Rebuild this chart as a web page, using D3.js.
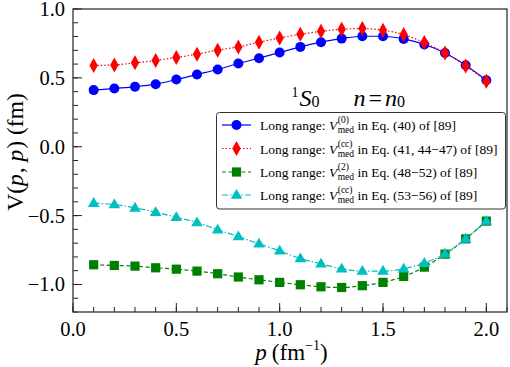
<!DOCTYPE html>
<html>
<head>
<meta charset="utf-8">
<script src="https://cdn.jsdelivr.net/npm/d3@7"></script>
<style>
  body { margin: 0; background: #fff; }
</style>
</head>
<body>
<svg id="chart" width="510" height="367"></svg>
<script>
// momentum grid (fm^-1)
const pValues = [0.1, 0.2, 0.3, 0.4, 0.5, 0.6, 0.7, 0.8, 0.9, 1.0,
                 1.1, 1.2, 1.3, 1.4, 1.5, 1.6, 1.7, 1.8, 1.9, 2.0];

// V(p,p) in fm for each long-range variant
const vMed0 = [0.411, 0.423, 0.435, 0.454, 0.488, 0.525, 0.561, 0.604, 0.643, 0.684,
               0.725, 0.759, 0.785, 0.802, 0.802, 0.783, 0.742, 0.681, 0.592, 0.483];
const vMedCC1 = [0.590, 0.594, 0.609, 0.626, 0.648, 0.672, 0.701, 0.725, 0.759, 0.790,
                 0.817, 0.838, 0.853, 0.858, 0.846, 0.814, 0.756, 0.681, 0.587, 0.476];
const vMed2 = [-0.857, -0.862, -0.867, -0.879, -0.889, -0.903, -0.922, -0.946, -0.966, -0.985,
               -1.002, -1.017, -1.022, -1.009, -0.985, -0.942, -0.874, -0.780, -0.669, -0.540];
const vMedCC2 = [-0.410, -0.420, -0.444, -0.476, -0.512, -0.550, -0.603, -0.652, -0.705, -0.756,
                 -0.812, -0.850, -0.886, -0.903, -0.903, -0.886, -0.845, -0.778, -0.669, -0.540];

const xTicks = [0.0, 0.5, 1.0, 1.5, 2.0];
const yTicks = [-1.0, -0.5, 0.0, 0.5, 1.0];

const legendSup = ['(0)', '(cc)', '(2)', '(cc)'];
const legendEq = ['\u00a0in Eq. (40) of [89]', '\u00a0in Eq. (41, 44\u221247) of [89]',
                  '\u00a0in Eq. (48\u221252) of [89]', '\u00a0in Eq. (53\u221256) of [89]'];

const series = [
  { values: vMed0, color: '#0000ff', dash: null, marker: 'circle' },
  { values: vMedCC1, color: '#ff0000', dash: '1.5,2', marker: 'diamond' },
  { values: vMed2, color: '#008000', dash: '4,2.5', marker: 'square' },
  { values: vMedCC2, color: '#00bfbf', dash: '6,2,1.5,2', marker: 'triangle' }
];

const FONT = '"Liberation Serif"';

const svg = d3.select('#chart');
const margin = { left: 73, top: 9, right: 3, bottom: 55 };
const width = 510 - margin.left - margin.right;
const height = 367 - margin.top - margin.bottom;
const g = svg.append('g').attr('transform', `translate(${margin.left},${margin.top})`);

const x = d3.scaleLinear().domain([0, 2.1]).range([0, width]);
const y = d3.scaleLinear().domain([-1.2, 1.0]).range([height, 0]);

// ticks pointing inward, minor every 0.1
const minorX = d3.range(0, 2.11, 0.1).map(v => +v.toFixed(2));
const minorY = d3.range(-1.2, 1.01, 0.1).map(v => +v.toFixed(2));

g.selectAll('.mx').data(minorX).enter().append('line')
  .attr('x1', d => x(d)).attr('x2', d => x(d))
  .attr('y1', height).attr('y2', height - 5)
  .attr('stroke', '#222').attr('stroke-width', 1);
g.selectAll('.Mx').data(xTicks).enter().append('line')
  .attr('x1', d => x(d)).attr('x2', d => x(d))
  .attr('y1', height).attr('y2', height - 9)
  .attr('stroke', '#222').attr('stroke-width', 1);
g.selectAll('.my').data(minorY).enter().append('line')
  .attr('x1', 0).attr('x2', 5)
  .attr('y1', d => y(d)).attr('y2', d => y(d))
  .attr('stroke', '#222').attr('stroke-width', 1);
g.selectAll('.My').data(yTicks).enter().append('line')
  .attr('x1', 0).attr('x2', 9)
  .attr('y1', d => y(d)).attr('y2', d => y(d))
  .attr('stroke', '#222').attr('stroke-width', 1);

// tick labels
g.selectAll('.xl').data(xTicks).enter().append('text')
  .attr('x', d => x(d)).attr('y', height + 24)
  .attr('text-anchor', 'middle')
  .style('font-family', FONT).style('font-size', '20.5px')
  .text(d => d.toFixed(1));
g.selectAll('.yl').data(yTicks).enter().append('text')
  .attr('x', -8).attr('y', d => y(d) + 7)
  .attr('text-anchor', 'end')
  .style('font-family', FONT).style('font-size', '20.5px')
  .text(d => (d < 0 ? '\u2212' : '') + Math.abs(d).toFixed(1));

// frame
g.append('rect').attr('width', width).attr('height', height)
  .attr('fill', 'none').attr('stroke', '#333').attr('stroke-width', 1.3);

// marker drawing
function drawMarker(sel, type, color, size) {
  if (type === 'circle') {
    sel.append('circle').attr('r', size * 0.5).attr('fill', color);
  } else if (type === 'diamond') {
    const w = size * 0.42, h = size * 0.75;
    sel.append('path').attr('d', `M0,${-h}L${w},0L0,${h}L${-w},0Z`).attr('fill', color);
  } else if (type === 'square') {
    const s = size * 0.46;
    sel.append('rect').attr('x', -s).attr('y', -s).attr('width', 2 * s).attr('height', 2 * s)
      .attr('fill', color);
  } else {
    const s = size * 0.58;
    sel.append('path').attr('d', `M0,${-s * 1.05}L${s},${s * 0.65}L${-s},${s * 0.65}Z`).attr('fill', color);
  }
}

const line = d3.line().x(d => x(d[0])).y(d => y(d[1])).curve(d3.curveMonotoneX);

series.forEach(s => {
  const pts = pValues.map((p, i) => [p, s.values[i]]);
  g.append('path').datum(pts)
    .attr('d', line).attr('fill', 'none')
    .attr('stroke', s.color).attr('stroke-width', 1.2)
    .attr('stroke-dasharray', s.dash);
  g.selectAll(null).data(pts).enter().append('g')
    .attr('transform', d => `translate(${x(d[0])},${y(d[1])})`)
    .each(function () { drawMarker(d3.select(this), s.marker, s.color, 10); });
});

// draw sequential rich text pieces, returns end x
function piece(parent, px, py, size, italic, txt) {
  return parent.append('text').attr('x', px).attr('y', py)
    .style('font-family', FONT)
    .style('font-size', size + 'px')
    .style('font-style', italic ? 'italic' : 'normal')
    .text(txt);
}
function rich(parent, x0, y0, parts) {
  let cx = x0;
  parts.forEach(pt => {
    if (pt.stack) {
      const a = piece(parent, cx, y0 + pt.stack[0].dy, pt.stack[0].size, false, pt.stack[0].t);
      const b = piece(parent, cx, y0 + pt.stack[1].dy, pt.stack[1].size, false, pt.stack[1].t);
      cx += Math.max(a.node().getComputedTextLength(), b.node().getComputedTextLength());
    } else {
      const t = piece(parent, cx, y0 + (pt.dy || 0), pt.size, pt.italic, pt.t);
      cx += t.node().getComputedTextLength() + (pt.gap || 0);
    }
  });
  return cx;
}

// annotation
rich(svg, 291.5, 106, [
  { t: '1', size: 14, dy: -9, gap: 1 },
  { t: 'S', size: 24, italic: true },
  { t: '0', size: 16, dy: 1, gap: 34 },
  { t: 'n', size: 24, italic: true, gap: 3 },
  { t: '=', size: 24, gap: 3 },
  { t: 'n', size: 24, italic: true },
  { t: '0', size: 16, dy: 1 }
]);

// legend
const lg = svg.append('g');
lg.append('rect').attr('x', 216.5).attr('y', 112.5).attr('width', 289).attr('height', 96.5)
  .attr('rx', 3).attr('fill', '#fff').attr('stroke', '#333').attr('stroke-width', 1);
const rowY = [125, 148.5, 172, 195];
series.forEach((s, i) => {
  lg.append('line').attr('x1', 222).attr('x2', 251)
    .attr('y1', rowY[i]).attr('y2', rowY[i])
    .attr('stroke', s.color).attr('stroke-width', 1.2).attr('stroke-dasharray', s.dash);
  const m = lg.append('g').attr('transform', `translate(236.5,${rowY[i]})`);
  drawMarker(m, s.marker, s.color, 10);
  rich(lg, 260, rowY[i] + 5, [
    { t: 'Long range:\u00a0', size: 13.5 },
    { t: 'V', size: 13.5, italic: true, gap: 0.5 },
    { stack: [{ t: legendSup[i], size: 9.5, dy: -7 }, { t: 'med', size: 9.5, dy: 3 }] },
    { t: legendEq[i], size: 13.5 }
  ]);
});

// x label
const xl = svg.append('g');
const xEnd = rich(xl, 0, 360, [
  { t: 'p', size: 23, italic: true, gap: 5 },
  { t: '(fm', size: 23 },
  { t: '\u22121', size: 14, dy: -10 },
  { t: ')', size: 23 }
]);
xl.attr('transform', `translate(${291.5 - xEnd / 2},0)`);

// y label
const yl = svg.append('g');
const yEnd = rich(yl, 0, 0, [
  { t: 'V(', size: 23.5 },
  { t: 'p', size: 23.5, italic: true, gap: 1 },
  { t: ',\u00a0', size: 23.5 },
  { t: 'p', size: 23.5, italic: true, gap: 1 },
  { t: ')\u00a0(fm)', size: 23.5 }
]);
yl.attr('transform', `translate(23,${152 + yEnd / 2}) rotate(-90)`);
</script>
</body>
</html>
